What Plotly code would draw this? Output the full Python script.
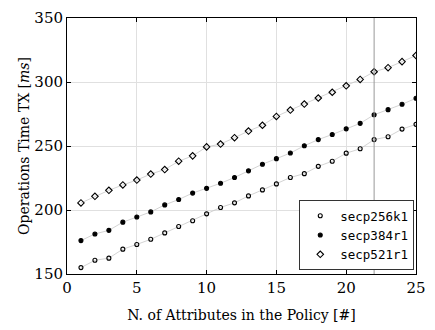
import plotly.graph_objects as go

x = list(range(1, 26))
secp256k1 = [155.0, 160.7, 162.4, 169.4, 173.1, 177.1, 182.1, 187.1, 191.6, 197.0,
             202.0, 205.6, 211.0, 215.7, 220.4, 225.4, 228.4, 234.1, 238.1, 244.4,
             247.8, 255.0, 257.2, 263.2, 266.9]
secp384r1 = [176.1, 181.3, 184.1, 190.5, 194.5, 198.5, 204.0, 208.2, 213.2, 216.9,
             220.9, 225.4, 230.6, 235.8, 240.1, 244.5, 250.2, 255.0, 259.0, 263.4,
             267.7, 274.4, 278.4, 282.6, 287.3]
secp521r1 = [205.5, 210.7, 215.4, 219.6, 223.4, 228.1, 231.6, 238.1, 242.3, 249.3,
             251.5, 256.5, 261.7, 266.2, 273.1, 278.1, 282.8, 287.5, 292.0, 297.0,
             302.0, 308.0, 311.2, 315.9, 320.7]
names = ["secp256k1", "secp384r1", "secp521r1"]
symbols = ["circle-open", "circle", "diamond-open"]
vline_x = 22

serif = "DejaVu Serif"
fig = go.Figure()
for ys in [secp256k1, secp384r1, secp521r1]:
    fig.add_trace(go.Scatter(x=x, y=ys, mode="lines", showlegend=False,
                             line=dict(color="#c8c8c8", width=0.8), hoverinfo="skip"))
for ys, nm, sym in zip([secp256k1, secp384r1, secp521r1], names, symbols):
    fig.add_trace(go.Scatter(x=x, y=ys, mode="markers", name=nm,
                             marker=dict(symbol=sym, size=4 if sym != "diamond-open" else 5,
                                         color="black",
                                         line=dict(color="black", width=1.1))))

fig.add_shape(type="line", x0=vline_x, x1=vline_x, y0=0, y1=1, xref="x", yref="paper",
              line=dict(color="#999999", width=1))

axis_common = dict(showline=True, linecolor="black", linewidth=1, mirror="ticks",
                   ticks="inside", ticklen=4, tickcolor="black",
                   showgrid=True, gridcolor="#e0e0e0", gridwidth=1, zeroline=False,
                   tickfont=dict(family=serif, size=15, color="black"))
fig.update_xaxes(range=[0, 25], tick0=0, dtick=5,
                 title=dict(text="N. of Attributes in the Policy [#]",
                            font=dict(family=serif, size=14, color="black"), standoff=14),
                 **axis_common)
fig.update_yaxes(range=[150, 350], tick0=150, dtick=50,
                 title=dict(text="Operations Time TX [<i>ms</i>]",
                            font=dict(family=serif, size=14, color="black"), standoff=1),
                 **axis_common)
fig.update_layout(width=435, height=330, margin=dict(l=67, r=11, t=9, b=53),
                  plot_bgcolor="white", paper_bgcolor="white",
                  legend=dict(x=0.995, y=0.015, xanchor="right", yanchor="bottom",
                              bgcolor="white", bordercolor="#333333", borderwidth=1,
                              font=dict(family="DejaVu Sans Mono", size=12.5, color="black"),
                              itemwidth=30, tracegroupgap=0))
fig.write_html("out.html")
